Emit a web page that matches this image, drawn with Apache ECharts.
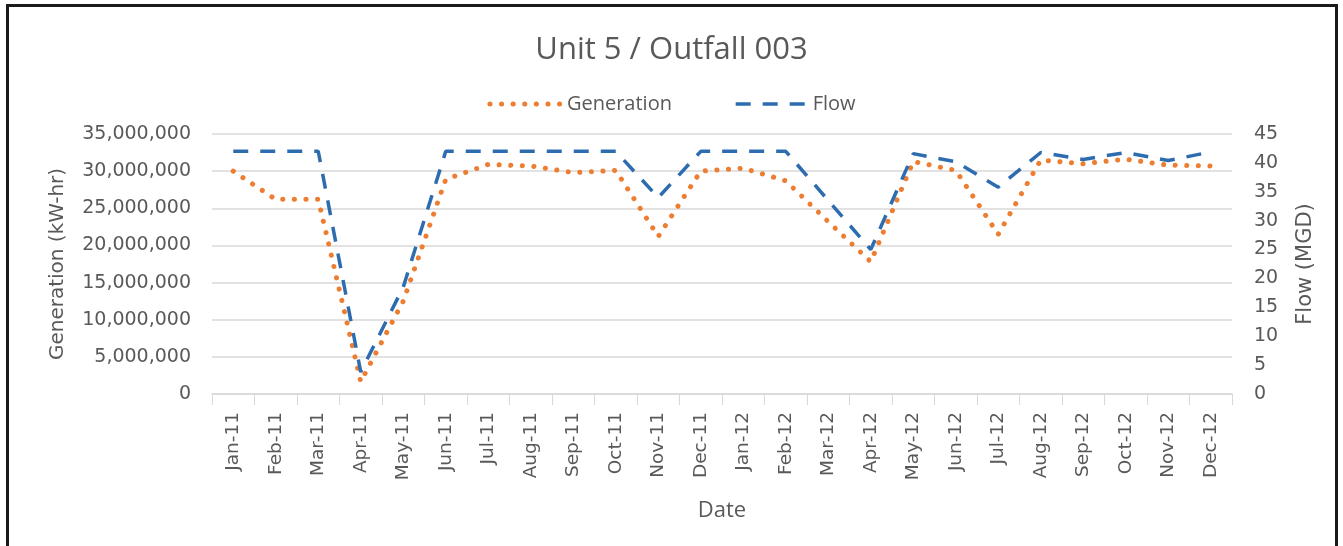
<!DOCTYPE html>
<html>
<head>
<meta charset="utf-8">
<title>Unit 5 / Outfall 003</title>
<script src="https://cdn.jsdelivr.net/npm/echarts@6/dist/echarts.min.js"></script>
<style>
  html, body { margin: 0; padding: 0; background: #fff; }
  #chart { width: 1343px; height: 546px; }
  /* dark frame round the chart, bottom edge falls outside the picture */
  .frame {
    position: absolute; left: 6px; top: 4px; width: 1326px; height: 560px;
    border: 3px solid #1a1a1a; border-bottom: none; pointer-events: none;
  }
</style>
</head>
<body>
<div id="chart"></div>
<div class="frame"></div>
<script>
// categories (monthly)
const months = ['Jan-11', 'Feb-11', 'Mar-11', 'Apr-11', 'May-11', 'Jun-11',
  'Jul-11', 'Aug-11', 'Sep-11', 'Oct-11', 'Nov-11', 'Dec-11',
  'Jan-12', 'Feb-12', 'Mar-12', 'Apr-12', 'May-12', 'Jun-12',
  'Jul-12', 'Aug-12', 'Sep-12', 'Oct-12', 'Nov-12', 'Dec-12']

// Generation (kW-hr), left axis
const generation = [30000000, 26200000, 26200000, 1650000, 12500000, 28900000,
  30900000, 30700000, 29800000, 30100000, 21200000, 30000000,
  30400000, 28700000, 23200000, 17800000, 31300000, 30100000,
  21500000, 31500000, 31000000, 31600000, 30800000, 30700000]

// Flow (MGD), right axis
const flow = [42, 42, 42, 3.8, 18.5, 42,
  42, 42, 42, 42, 34, 42,
  42, 42, 33.5, 25, 41.6, 40.2,
  35.8, 41.8, 40.6, 41.8, 40.4, 41.9]

const textColor = '#595959'
const gridColor = '#d9d9d9'
const axisFont = 'DejaVu Sans'
const titleFont = 'Open Sans'
const genColor = '#ED7D31'
const flowColor = '#2E6CB0'

const genLine = { color: genColor, width: 5, type: [0.1, 11.5], cap: 'round' }
const flowLine = { color: flowColor, width: 3.5, type: [15, 12] }

const chart = echarts.init(document.getElementById('chart'))

const option = {
  animation: false,
  title: {
    text: 'Unit 5 / Outfall 003',
    left: 'center',
    top: 30,
    textStyle: { color: textColor, fontFamily: titleFont, fontSize: 31, fontWeight: 'normal' }
  },
  legend: {
    top: 89,
    left: 'center',
    itemWidth: 72,
    itemHeight: 20,
    itemGap: 62,
    itemStyle: { opacity: 0 },
    textStyle: { color: textColor, fontFamily: titleFont, fontSize: 20 },
    data: [
      { name: 'Generation', lineStyle: genLine },
      { name: 'Flow', lineStyle: flowLine }
    ]
  },
  grid: { left: 212, right: 111, top: 134, bottom: 152 },
  xAxis: {
    type: 'category',
    data: months,
    boundaryGap: true,
    name: 'Date',
    nameLocation: 'middle',
    nameGap: 106,
    nameTextStyle: { color: textColor, fontFamily: titleFont, fontSize: 22 },
    axisLine: { lineStyle: { color: gridColor, width: 1.5 } },
    axisTick: { show: true, length: 11, lineStyle: { color: gridColor } },
    axisLabel: {
      rotate: 90,
      margin: 18,
      interval: 0,
      color: textColor,
      fontFamily: axisFont,
      fontSize: 18.5
    }
  },
  yAxis: [
    {
      type: 'value',
      min: 0,
      max: 35000000,
      interval: 5000000,
      name: 'Generation (kW-hr)',
      nameLocation: 'middle',
      nameRotate: 90,
      nameGap: 144,
      nameTextStyle: { color: textColor, fontFamily: axisFont, fontSize: 20 },
      axisLine: { show: false },
      axisTick: { show: false },
      axisLabel: {
        margin: 21,
        color: textColor,
        fontFamily: axisFont,
        fontSize: 19,
        formatter: (v) => v.toLocaleString('en-US')
      },
      splitLine: { lineStyle: { color: gridColor, width: 1.5 } }
    },
    {
      type: 'value',
      position: 'right',
      min: 0,
      max: 45,
      interval: 5,
      name: 'Flow (MGD)',
      nameLocation: 'middle',
      nameRotate: 90,
      nameGap: 63,
      nameTextStyle: { color: textColor, fontFamily: axisFont, fontSize: 21 },
      axisLine: { show: false },
      axisTick: { show: false },
      axisLabel: { margin: 22, color: textColor, fontFamily: axisFont, fontSize: 19 },
      splitLine: { show: false }
    }
  ],
  series: [
    {
      name: 'Generation',
      type: 'line',
      yAxisIndex: 0,
      data: generation,
      symbol: 'none',
      lineStyle: genLine,
      itemStyle: { color: genColor }
    },
    {
      name: 'Flow',
      type: 'line',
      yAxisIndex: 1,
      data: flow,
      symbol: 'none',
      lineStyle: flowLine,
      itemStyle: { color: flowColor }
    }
  ]
}

chart.setOption(option)
</script>
</body>
</html>
